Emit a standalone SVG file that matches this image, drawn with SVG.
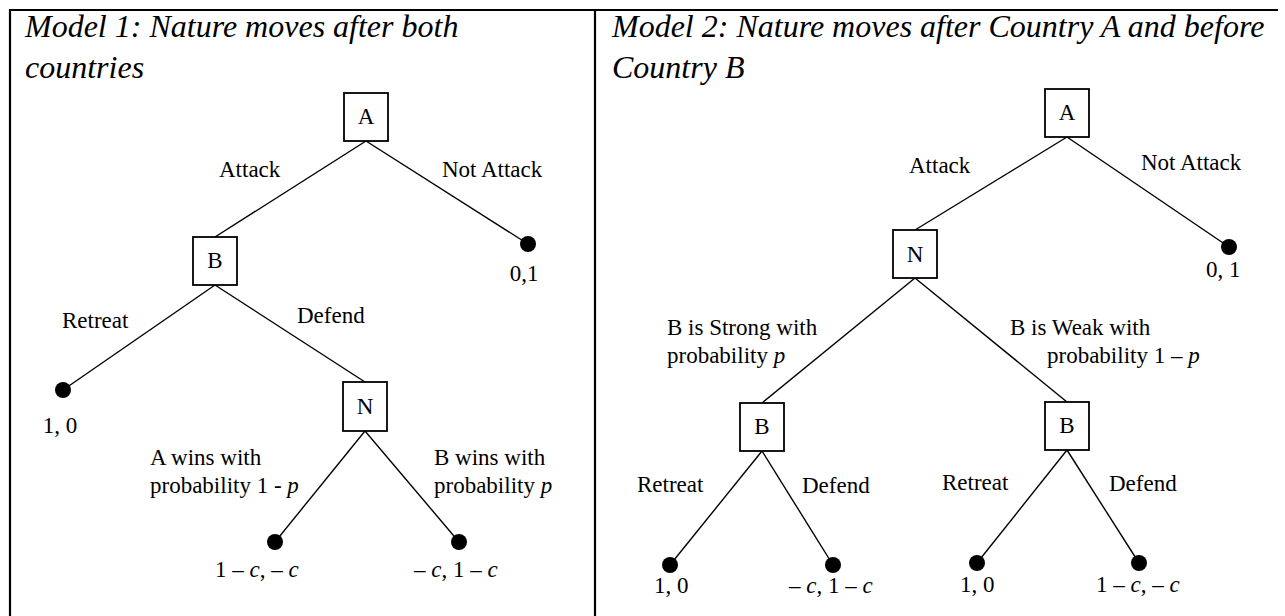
<svg xmlns="http://www.w3.org/2000/svg" width="1285" height="616" viewBox="0 0 1285 616">
<style>
.frame{stroke:#000;stroke-width:2.2;fill:none}
.edge{stroke:#000;stroke-width:1.4;fill:none}
.box{fill:#fff;stroke:#000;stroke-width:1.8}
.dot{fill:#000}
.title{font-family:"Liberation Serif","Times New Roman",serif;font-style:italic;font-size:32px;fill:#000}
.lbl{font-family:"Liberation Serif","Times New Roman",serif;font-size:23px;fill:#000}
.nl{font-family:"Liberation Serif","Times New Roman",serif;font-size:23px;fill:#000;text-anchor:middle}
.i{font-style:italic}
</style>
<rect width="1285" height="616" fill="#fff"/>
<g id="frame">
<line class="frame" x1="9" y1="10" x2="1278" y2="10"/>
<line class="frame" x1="10" y1="9" x2="10" y2="616"/>
<line class="frame" x1="595" y1="9" x2="595" y2="616"/>
</g>
<g id="titles">
<text class="title" x="25" y="37">Model 1: Nature moves after both</text>
<text class="title" x="25" y="78">countries</text>
<text class="title" x="612" y="37">Model 2: Nature moves after Country A and before</text>
<text class="title" x="612" y="78">Country B</text>
</g>
<g id="connectors">
<line class="edge" x1="366" y1="141" x2="215" y2="237"/>
<line class="edge" x1="366" y1="141" x2="528" y2="244"/>
<line class="edge" x1="215" y1="285" x2="63" y2="390"/>
<line class="edge" x1="215" y1="285" x2="365" y2="382"/>
<line class="edge" x1="365" y1="431" x2="275" y2="542"/>
<line class="edge" x1="365" y1="431" x2="459" y2="542"/>
<line class="edge" x1="1067" y1="137" x2="915" y2="230"/>
<line class="edge" x1="1067" y1="137" x2="1229" y2="247"/>
<line class="edge" x1="915" y1="278" x2="762" y2="403"/>
<line class="edge" x1="915" y1="278" x2="1067" y2="402"/>
<line class="edge" x1="762" y1="451" x2="670" y2="565"/>
<line class="edge" x1="762" y1="451" x2="833" y2="565"/>
<line class="edge" x1="1067" y1="450" x2="977" y2="563"/>
<line class="edge" x1="1067" y1="450" x2="1139" y2="563"/>
</g>
<g id="edge-labels">
<text class="lbl" x="219" y="177">Attack</text>
<text class="lbl" x="442" y="177">Not Attack</text>
<text class="lbl" x="62" y="328">Retreat</text>
<text class="lbl" x="297" y="323">Defend</text>
<text class="lbl" x="150" y="465">A wins with</text>
<text class="lbl" x="150" y="493">probability 1 - <tspan class="i">p</tspan></text>
<text class="lbl" x="434" y="465">B wins with</text>
<text class="lbl" x="434" y="493">probability <tspan class="i">p</tspan></text>
<text class="lbl" x="909" y="173">Attack</text>
<text class="lbl" x="1141" y="170">Not Attack</text>
<text class="lbl" x="667" y="335">B is Strong with</text>
<text class="lbl" x="667" y="363">probability <tspan class="i">p</tspan></text>
<text class="lbl" x="1010" y="335">B is Weak with</text>
<text class="lbl" x="1047" y="363">probability 1 – <tspan class="i">p</tspan></text>
<text class="lbl" x="637" y="492">Retreat</text>
<text class="lbl" x="802" y="493">Defend</text>
<text class="lbl" x="942" y="490">Retreat</text>
<text class="lbl" x="1109" y="491">Defend</text>
</g>
<g id="m1-A"><rect class="box" x="344" y="93" width="44" height="48"/><text class="nl" x="366" y="124">A</text></g>
<g id="m1-B"><rect class="box" x="193" y="237" width="44" height="48"/><text class="nl" x="215" y="268">B</text></g>
<g id="m1-N"><rect class="box" x="343" y="382" width="44" height="49"/><text class="nl" x="365" y="414">N</text></g>
<g id="m1-t1"><circle class="dot" cx="528" cy="244" r="8"/><text class="nl" x="524" y="281">0,1</text></g>
<g id="m1-t2"><circle class="dot" cx="63" cy="390" r="8"/><text class="nl" x="60" y="433">1, 0</text></g>
<g id="m1-t3"><circle class="dot" cx="275" cy="542" r="8"/><text class="lbl" x="215" y="577">1 – <tspan class="i">c</tspan>, – <tspan class="i">c</tspan></text></g>
<g id="m1-t4"><circle class="dot" cx="459" cy="542" r="8"/><text class="lbl" x="414" y="577">– <tspan class="i">c</tspan>, 1 – <tspan class="i">c</tspan></text></g>
<g id="m2-A"><rect class="box" x="1045" y="89" width="44" height="48"/><text class="nl" x="1067" y="120">A</text></g>
<g id="m2-N"><rect class="box" x="893" y="230" width="44" height="48"/><text class="nl" x="915" y="262">N</text></g>
<g id="m2-B1"><rect class="box" x="740" y="403" width="44" height="48"/><text class="nl" x="762" y="434">B</text></g>
<g id="m2-B2"><rect class="box" x="1045" y="402" width="44" height="48"/><text class="nl" x="1067" y="433">B</text></g>
<g id="m2-t1"><circle class="dot" cx="1229" cy="247" r="8"/><text class="lbl" x="1206" y="277">0, 1</text></g>
<g id="m2-t2"><circle class="dot" cx="670" cy="565" r="8"/><text class="lbl" x="654" y="593">1, 0</text></g>
<g id="m2-t3"><circle class="dot" cx="833" cy="565" r="8"/><text class="lbl" x="789" y="593">– <tspan class="i">c</tspan>, 1 – <tspan class="i">c</tspan></text></g>
<g id="m2-t4"><circle class="dot" cx="977" cy="563" r="8"/><text class="lbl" x="960" y="592">1, 0</text></g>
<g id="m2-t5"><circle class="dot" cx="1139" cy="563" r="8"/><text class="lbl" x="1096" y="592">1 – <tspan class="i">c</tspan>, – <tspan class="i">c</tspan></text></g>
</svg>
